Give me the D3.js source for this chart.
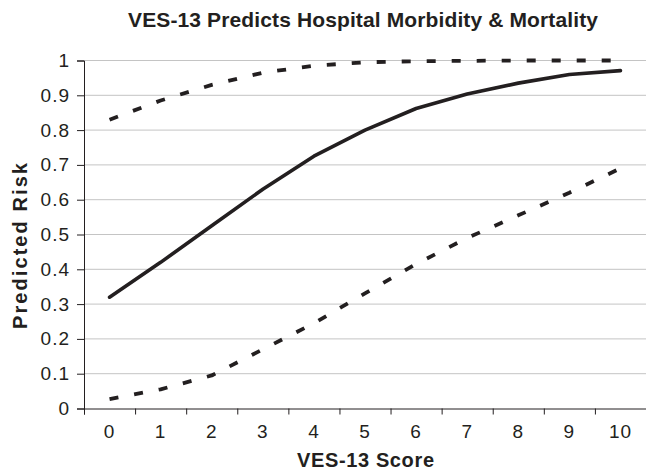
<!DOCTYPE html>
<html>
<head>
<meta charset="utf-8">
<script src="https://cdn.jsdelivr.net/npm/d3@7"></script>
<style>
  body { margin: 0; background: #fff; }
  text { font-family: "Liberation Sans", Arial, sans-serif; fill: #231f20; }
</style>
</head>
<body>
<div id="chart"></div>
<script>
const scores = [0, 1, 2, 3, 4, 5, 6, 7, 8, 9, 10];
const predicted = [0.32, 0.42, 0.525, 0.63, 0.725, 0.80, 0.862, 0.904, 0.935, 0.96, 0.971];
const upperCI = [0.83, 0.885, 0.93, 0.965, 0.985, 0.995, 0.998, 0.999, 1.0, 1.0, 1.0];
const lowerCI = [0.027, 0.055, 0.095, 0.17, 0.245, 0.331, 0.415, 0.49, 0.555, 0.62, 0.69];
const yTicks = [0, 0.1, 0.2, 0.3, 0.4, 0.5, 0.6, 0.7, 0.8, 0.9, 1];

const width = 646, height = 472;
const margin = { left: 84, right: 646, top: 60.5, bottom: 408.5 };

const svg = d3.select('#chart').append('svg')
  .attr('width', width)
  .attr('height', height);

const x = d3.scaleBand().domain(scores).range([margin.left, margin.right]);
const xEdge = d3.scaleLinear().domain([0, scores.length]).range([margin.left, margin.right]);
const y = d3.scaleLinear().domain([0, 1]).range([margin.bottom, margin.top]);

// gridlines
svg.append('g')
  .selectAll('line')
  .data(yTicks.filter(d => d > 0))
  .join('line')
  .attr('x1', margin.left).attr('x2', margin.right)
  .attr('y1', d => y(d)).attr('y2', d => y(d))
  .attr('stroke', '#c4c4c4')
  .attr('stroke-width', 1);

// y axis
const yAxis = svg.append('g')
  .attr('transform', `translate(${margin.left},0)`)
  .call(d3.axisLeft(y).tickValues(yTicks).tickSize(7).tickPadding(7)
    .tickFormat(d => d === 0 ? '0' : d === 1 ? '1' : d3.format('.1f')(d)));
yAxis.selectAll('text')
  .style('font-size', '19px')
  .style('letter-spacing', '1px')
  .attr('fill', '#231f20');
yAxis.selectAll('line, path').attr('stroke', '#231f20');

// x axis ticks between categories
const xTickAxis = svg.append('g')
  .attr('transform', `translate(0,${margin.bottom})`)
  .call(d3.axisBottom(xEdge).tickValues(d3.range(scores.length + 1)).tickSize(6).tickFormat(''));
xTickAxis.selectAll('line, path').attr('stroke', '#231f20');

// x labels
const xLabels = svg.append('g')
  .attr('transform', `translate(0,${margin.bottom})`)
  .call(d3.axisBottom(x).tickSize(0));
xLabels.select('.domain').remove();
xLabels.selectAll('text')
  .attr('y', 29.5).attr('dy', 0)
  .style('font-size', '19px')
  .style('letter-spacing', '1px')
  .attr('fill', '#231f20');

const cx = d => x(d) + x.bandwidth() / 2;

function series(vals, dashed) {
  const line = d3.line()
    .x((d, i) => cx(scores[i]))
    .y(d => y(d));
  svg.append('path')
    .datum(vals)
    .attr('d', line)
    .attr('fill', 'none')
    .attr('stroke', '#231f20')
    .attr('stroke-width', dashed ? 3.8 : 3.6)
    .attr('stroke-linejoin', 'round')
    .attr('stroke-linecap', dashed ? 'butt' : 'round')
    .attr('stroke-dasharray', dashed ? '9,16' : null);
}
series(upperCI, true);
series(lowerCI, true);
series(predicted, false);

// titles
svg.append('text')
  .attr('x', 363).attr('y', 27)
  .attr('text-anchor', 'middle')
  .attr('textLength', 470)
  .style('font-size', '21px').style('font-weight', 'bold')
  .text('VES-13 Predicts Hospital Morbidity & Mortality');

svg.append('text')
  .attr('x', 365.5).attr('y', 466.5)
  .attr('text-anchor', 'middle')
  .attr('textLength', 137)
  .style('font-size', '20px').style('font-weight', 'bold')
  .text('VES-13 Score');

svg.append('text')
  .attr('transform', 'translate(27,246) rotate(-90)')
  .attr('text-anchor', 'middle')
  .attr('textLength', 166)
  .style('font-size', '20px').style('font-weight', 'bold')
  .text('Predicted Risk');
</script>
</body>
</html>
